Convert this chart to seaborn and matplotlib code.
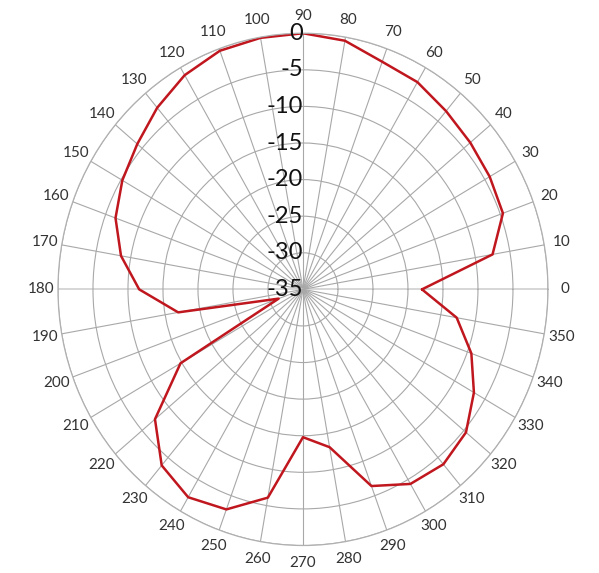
import numpy as np
import pandas as pd
import matplotlib
matplotlib.use('Agg')
import matplotlib.pyplot as plt
import seaborn as sns

# --- 数据：方向图 (角度, dB) ---
angles_deg = [0, 10, 20, 30, 40, 50, 60, 70, 80, 90, 100, 110,
              120, 130, 140, 150, 160, 170, 180, 190, 200, 210, 220, 230,
              240, 250, 260, 270, 280, 290, 300, 310, 320, 330, 340, 350]
gain_db = [-18.0, -7.5, -4.6, -4.2, -3.8, -3.2, -2.3, -1.9, -0.5, 0.0, -0.1, -0.3,
           -1.2, -2.6, -4.1, -5.2, -6.5, -8.6, -11.6, -16.9, -31.3, -14.8, -7.4, -3.6,
           -2.2, -3.0, -6.1, -14.8, -13.1, -6.4, -4.3, -3.8, -4.6, -6.8, -9.4, -12.7]
r_ticks = [-35, -30, -25, -20, -15, -10, -5, 0]
theta_ticks = list(range(0, 360, 10))

# 闭合曲线
df = pd.DataFrame({'angle': angles_deg + [360], 'gain': gain_db + [gain_db[0]]})
df['theta'] = np.deg2rad(df['angle'])

sns.set_style('white')
plt.rcParams['font.family'] = ['Lato', 'DejaVu Sans']

fig = plt.figure(figsize=(5.99, 5.73), dpi=100)
ax = fig.add_axes([0.0968, 0.0480, 0.818, 0.894], projection='polar')
ax.set_aspect('auto')

sns.lineplot(data=df, x='theta', y='gain', ax=ax, sort=False,
             color='#c0161e', linewidth=1.8)

ax.set_rlim(-35, 0)
ax.set_rticks(r_ticks)
ax.set_yticklabels([])
ax.set_thetagrids(theta_ticks, labels=[str(t) for t in theta_ticks])
ax.tick_params(axis='x', labelsize=11, labelcolor='#333333', pad=2)
ax.grid(True, color='#a8a8a8', linewidth=0.8)
for i, gl in enumerate(ax.xaxis.get_gridlines()):
    if theta_ticks[i] in (0, 180):
        gl.set_color('#cfcfcf')
        gl.set_linewidth(1.2)
ax.spines['polar'].set_color('#b0b0b0')
ax.spines['polar'].set_linewidth(0.9)
ax.set_xlabel('')
ax.set_ylabel('')

# 径向刻度标签，沿 90° 方向
for r in r_ticks:
    ax.text(np.deg2rad(90), r, str(r), ha='right', va='center',
            fontsize=17, color='#111111')

plt.savefig('out.png', dpi=100)
